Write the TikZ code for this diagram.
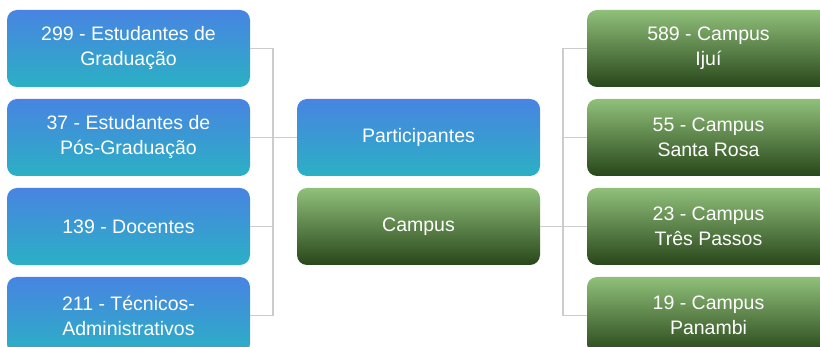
\documentclass[tikz,border=0pt]{standalone}
\usepackage{fontspec}
\setmainfont{Liberation Sans}
\usetikzlibrary{positioning}
\definecolor{bluetop}{HTML}{4884E2}
\definecolor{bluebot}{HTML}{2BB0C4}
\definecolor{greentop}{HTML}{90C07A}
\definecolor{greenbot}{HTML}{28461A}
\definecolor{linegray}{HTML}{CCCCCC}

\begin{document}
\begin{tikzpicture}[x=1pt,y=-1pt]
            \tikzset{
                box/.style={rounded corners=10pt,minimum width=243pt,minimum height=77pt,
                    inner sep=0pt,align=center,text=white,font=\fontsize{19.5}{25}\selectfont},
                bluebox/.style={box,top color=bluetop,bottom color=bluebot},
                greenbox/.style={box,top color=greentop,bottom color=greenbot},
                link/.style={draw=linegray,line width=1.5pt}}
            \useasboundingbox (0,0) rectangle (820,347);
            \clip (0,0) rectangle (820,347);
            % left column
            \node[bluebox] (grad) at (128.5,48.5) {299 - Estudantes de\\Graduação};
            \node[bluebox] (pos) at (128.5,137.5) {37 - Estudantes de\\Pós-Graduação};
            \node[bluebox] (doc) at (128.5,226.5) {139 - Docentes};
            \node[bluebox] (tec) at (128.5,315.5) {211 - Técnicos-\\Administrativos};
            % middle
            \node[bluebox] (part) at (418.5,137.5) {Participantes};
            \node[greenbox] (camp) at (418.5,226.5) {Campus};
            % right column
            \node[greenbox] (ijui) at (708.5,48.5) {589 - Campus\\Ijuí};
            \node[greenbox] (rosa) at (708.5,137.5) {55 - Campus\\Santa Rosa};
            \node[greenbox] (tres) at (708.5,226.5) {23 - Campus\\Três Passos};
            \node[greenbox] (pana) at (708.5,315.5) {19 - Campus\\Panambi};
            % connectors
            \coordinate (jl) at (273,137.5);
            \coordinate (jr) at (563,226.5);
            \draw[link] (grad.east) -| (jl) |- (tec.east);
            \draw[link] (pos.east) -- (part.west);
            \draw[link] (doc.east) -| (jl);
            \draw[link] (camp.east) -- (jr);
            \draw[link] (ijui.west) -| (jr) |- (pana.west);
            \draw[link] (rosa.west) -| (jr);
            \draw[link] (tres.west) -- (jr);
        \end{tikzpicture}
\end{document}
